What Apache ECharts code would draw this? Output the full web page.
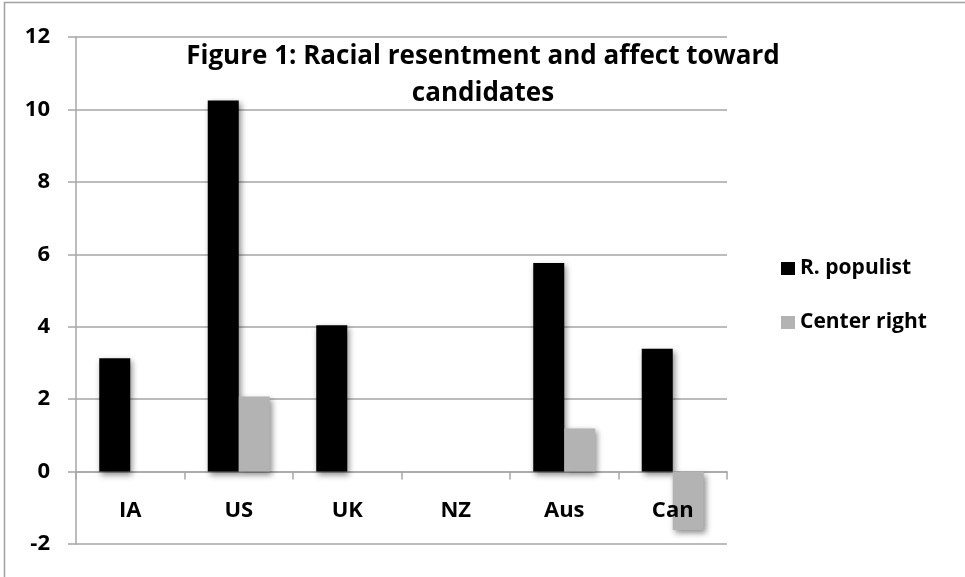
<!DOCTYPE html>
<html>
<head>
<meta charset="utf-8">
<title>Figure 1: Racial resentment and affect toward candidates</title>
<script src="https://cdn.jsdelivr.net/npm/echarts@6/dist/echarts.min.js"></script>
<style>
  html, body { margin: 0; padding: 0; background: #fff; }
  #chart { width: 965px; height: 577px; }
</style>
</head>
<body>
<div id="chart"></div>
<script>
// Countries on the category axis
const categories = ['IA', 'US', 'UK', 'NZ', 'Aus', 'Can'];
// Effect of racial resentment on affect toward each party family (null = no such party)
const populistValues = [3.13, 10.25, 4.04, null, 5.76, 3.39];
const centerRightValues = [null, 2.07, null, null, 1.19, -1.61];
const seriesNames = ['R. populist', 'Center right'];
const titleLines = ['Figure 1: Racial resentment and affect toward', 'candidates'];

const FONT = '"Open Sans", Lato, sans-serif';
const GRID_COLOR = '#a6a6a6';

const chart = echarts.init(document.getElementById('chart'), null, { renderer: 'canvas' });

const barShadow = {
  shadowBlur: 6,
  shadowColor: 'rgba(0,0,0,0.45)',
  shadowOffsetX: 2,
  shadowOffsetY: 3
};

const labelFont = { fontFamily: FONT, fontWeight: 'bold', fontSize: 22, color: '#000' };

chart.setOption({
  animation: false,
  backgroundColor: '#fff',
  grid: { left: 76, right: 238, top: 37, bottom: 33, containLabel: false, outerBoundsMode: 'none' },
  graphic: [
    {
      type: 'rect',
      shape: { x: 4.5, y: 2.5, width: 1000, height: 620 },
      style: { fill: 'none', stroke: '#a0a0a0', lineWidth: 1.5 },
      silent: true
    },
    {
      type: 'text',
      x: 483,
      y: 38,
      style: {
        text: titleLines.join('\n'),
        textAlign: 'center',
        fontFamily: FONT,
        fontWeight: 'bold',
        fontSize: 26,
        lineHeight: 37,
        fill: '#000'
      },
      z: 10
    }
  ],
  legend: {
    orient: 'vertical',
    left: 776,
    top: 253,
    itemWidth: 14,
    itemHeight: 13,
    itemGap: 33,
    icon: 'rect',
    data: seriesNames,
    textStyle: { fontFamily: FONT, fontWeight: 'bold', fontSize: 21, color: '#000', padding: 0 }
  },
  xAxis: [
    {
      // zero line with category boundary ticks
      type: 'category',
      data: categories,
      axisLine: { onZero: true, lineStyle: { color: GRID_COLOR, width: 1.5 } },
      axisTick: { show: true, length: 8, lineStyle: { color: GRID_COLOR, width: 1.5 } },
      axisLabel: { show: false },
      splitLine: { show: false }
    },
    {
      // category names, just below the zero line, drawn above the bars
      type: 'category',
      data: categories,
      position: 'bottom',
      offset: -52,
      z: 10,
      axisLine: { show: false },
      axisTick: { show: false },
      axisLabel: Object.assign({ margin: 8 }, labelFont),
      splitLine: { show: false }
    }
  ],
  yAxis: {
    type: 'value',
    min: -2,
    max: 12,
    interval: 2,
    axisLine: { show: true, lineStyle: { color: GRID_COLOR, width: 1.5 } },
    axisTick: { show: true, length: 8, lineStyle: { color: GRID_COLOR, width: 1.5 } },
    axisLabel: Object.assign({ margin: 26 }, labelFont),
    splitLine: { show: true, lineStyle: { color: GRID_COLOR, width: 1.5 } }
  },
  series: [
    {
      name: seriesNames[0],
      type: 'bar',
      data: populistValues,
      barWidth: 31,
      barGap: '0%',
      itemStyle: Object.assign({ color: '#000000' }, barShadow)
    },
    {
      name: seriesNames[1],
      type: 'bar',
      data: centerRightValues,
      barWidth: 31,
      barGap: '0%',
      itemStyle: Object.assign({ color: '#b3b3b3' }, barShadow)
    }
  ]
});
</script>
</body>
</html>
